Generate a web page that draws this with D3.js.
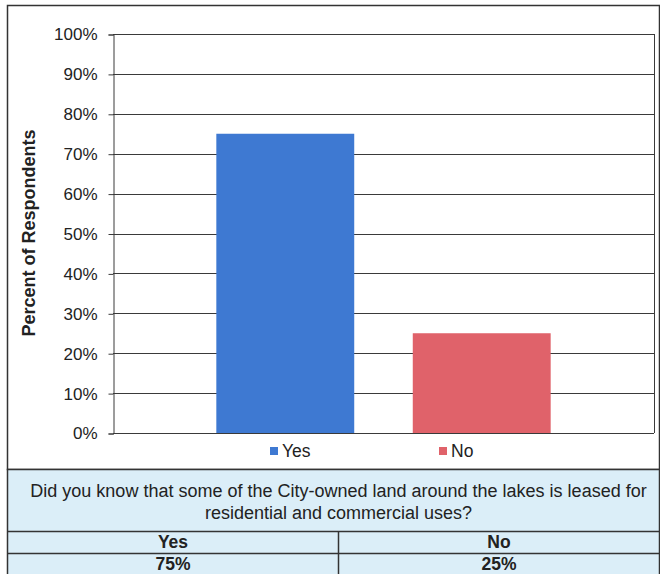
<!DOCTYPE html>
<html><head><meta charset="utf-8">
<script src="https://cdn.jsdelivr.net/npm/d3@7"></script>
<style>body{margin:0;background:#fff;font-family:Arial,"Liberation Sans",sans-serif}</style>
</head><body><svg id="c" width="660" height="574"></svg>
<script>
const categories = ["Yes", "No"];
const values = [75, 25];
const tickValues = [0,10,20,30,40,50,60,70,80,90,100];
const question = ["Did you know that some of the City-owned land around the lakes is leased for", "residential and commercial uses?"];
const colors = ["#3e79d2", "#e0626a"];

const svg = d3.select("#c");
const font = "Arial, 'Liberation Sans', sans-serif";

// outer chart frame
svg.append("rect").attr("x",7.5).attr("y",5.5).attr("width",652).attr("height",464)
  .attr("fill","#fff").attr("stroke","#333").attr("stroke-width",1.5);

const L=113, R=654, T=34, B=433;
const y = d3.scaleLinear().domain([0,100]).range([B,T]);
const x = d3.scaleBand().domain(categories).range([L,R]).paddingInner(0.298).paddingOuter(0.526);

// gridlines
svg.append("g").selectAll("line").data(tickValues).join("line")
  .attr("x1",L).attr("x2",R).attr("y1",d=>Math.round(y(d))+0.5).attr("y2",d=>Math.round(y(d))+0.5)
  .attr("stroke","#3a3a3a").attr("stroke-width",1);
// right border of plot
svg.append("line").attr("x1",R+0.5).attr("x2",R+0.5).attr("y1",T).attr("y2",B).attr("stroke","#3a3a3a");

// axis
const yAxis = d3.axisLeft(y).tickValues(tickValues).tickFormat(d=>d+"%").tickSize(5).tickPadding(11);
const ga = svg.append("g").attr("transform",`translate(${L+0.5},0.5)`).call(yAxis);
ga.selectAll("path,line").attr("stroke","#3a3a3a");
ga.selectAll("text").attr("font-family",font).attr("font-size",17).attr("fill","#222");

// bars
svg.append("g").selectAll("rect").data(categories).join("rect")
  .attr("x",d=>x(d)).attr("width",x.bandwidth())
  .attr("y",(d,i)=>y(values[i])).attr("height",(d,i)=>B-y(values[i]))
  .attr("fill",(d,i)=>colors[i]);

// y title
svg.append("text").attr("transform","translate(35,233) rotate(-90)")
  .attr("text-anchor","middle").attr("font-family",font).attr("font-weight","bold")
  .attr("font-size",18).attr("fill","#222").text("Percent of Respondents");

// legend
const legX = [270, 439];
const lg = svg.append("g").selectAll("g").data(categories).join("g")
  .attr("transform",(d,i)=>`translate(${legX[i]},447)`);
lg.append("rect").attr("width",8).attr("height",8).attr("fill",(d,i)=>colors[i]);
lg.append("text").attr("x",12).attr("y",10).attr("font-family",font).attr("font-size",17.5)
  .attr("fill","#222").text(d=>d);

// table
const tL=7.5, tR=659.5, mid=338.5;
svg.append("rect").attr("x",tL).attr("y",469.5).attr("width",tR-tL).attr("height",106)
  .attr("fill","#dbeef8").attr("stroke","#333").attr("stroke-width",1.5);
[531.5,553.5].forEach(yy=>svg.append("line").attr("x1",tL).attr("x2",tR).attr("y1",yy).attr("y2",yy)
  .attr("stroke","#333").attr("stroke-width",1.5));
svg.append("line").attr("x1",mid).attr("x2",mid).attr("y1",531.5).attr("y2",574).attr("stroke","#333").attr("stroke-width",1.5);
svg.append("g").selectAll("text").data(question).join("text")
  .attr("x",(tL+tR)/2+5).attr("y",(d,i)=>497+i*22).attr("text-anchor","middle")
  .attr("font-family",font).attr("font-size",18).attr("fill","#222").text(d=>d);
const colX = [(tL+mid)/2, (mid+tR)/2];
svg.append("g").selectAll("text").data(categories).join("text")
  .attr("x",(d,i)=>colX[i]).attr("y",548).attr("text-anchor","middle")
  .attr("font-family",font).attr("font-weight","bold").attr("font-size",17.5).attr("fill","#222").text(d=>d);
svg.append("g").selectAll("text").data(values).join("text")
  .attr("x",(d,i)=>colX[i]).attr("y",570).attr("text-anchor","middle")
  .attr("font-family",font).attr("font-weight","bold").attr("font-size",17.5).attr("fill","#222").text(d=>d+"%");
</script></body></html>
